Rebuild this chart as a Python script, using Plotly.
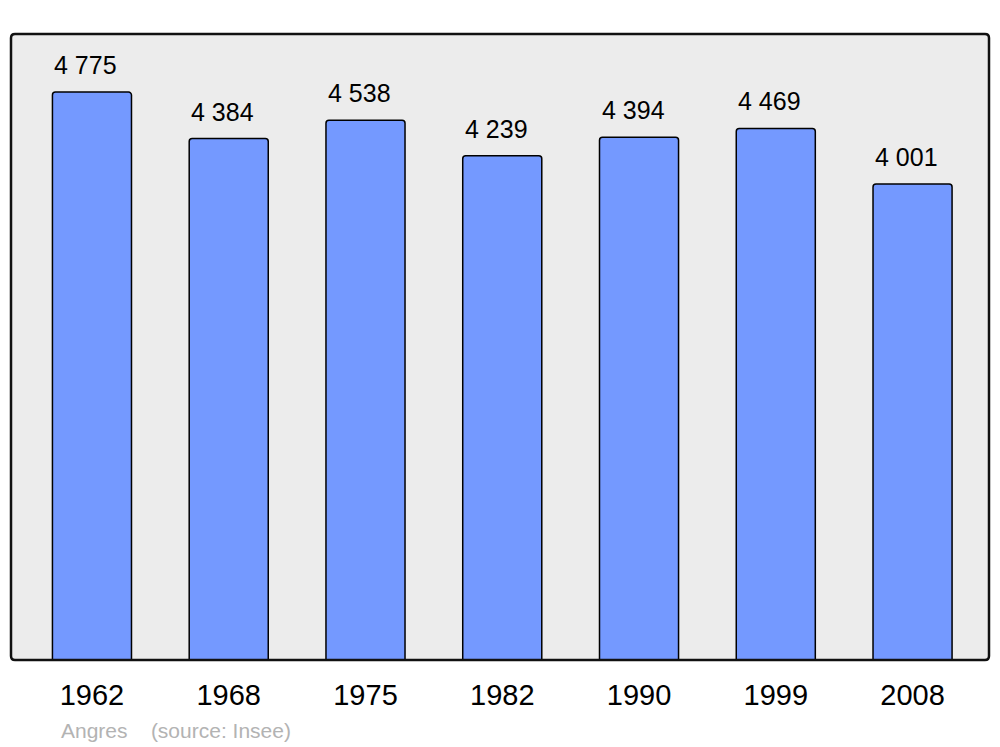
import plotly.graph_objects as go

years = ["1962", "1968", "1975", "1982", "1990", "1999", "2008"]
population = [4775, 4384, 4538, 4239, 4394, 4469, 4001]
value_labels = ["4 775", "4 384", "4 538", "4 239", "4 394", "4 469", "4 001"]

xpos = list(range(len(years)))

fig = go.Figure()
fig.add_trace(go.Bar(
    x=xpos, y=population, width=0.578,
    marker=dict(color="#7499ff", line=dict(color="black", width=1.5), cornerradius=3),
    hoverinfo="skip",
))

for xi, v, lab in zip(xpos, population, value_labels):
    fig.add_annotation(x=xi, y=v, text=lab, showarrow=False, yanchor="bottom",
                       yshift=11, xshift=-6,
                       font=dict(size=25, color="black", family="Liberation Sans, Arial"))

W, H = 978.0, 626.0
rx, ry = 4 / W, 4 / H
path = (f"M {rx},0 L {1-rx},0 Q 1,0 1,{ry} L 1,{1-ry} Q 1,1 {1-rx},1 "
        f"L {rx},1 Q 0,1 0,{1-ry} L 0,{ry} Q 0,0 {rx},0 Z")
fig.add_shape(type="path", xref="paper", yref="paper", path=path,
              line=dict(color="#111111", width=2.5), layer="above")

fig.add_annotation(xref="paper", yref="paper", x=(59 - 11) / W, y=(660 - 730) / H,
                   xanchor="left", yanchor="middle", showarrow=False,
                   text="Angres&nbsp;&nbsp;&nbsp;&nbsp;(source: Insee)",
                   font=dict(size=21, color="#b3b3b3", family="Liberation Sans, Arial"))

# page body has an 8px margin, so the figure is shrunk/offset accordingly
fig.update_layout(
    width=992, height=739,
    margin=dict(l=3, r=11, t=26, b=87),
    paper_bgcolor="white", plot_bgcolor="#ececec",
    showlegend=False,
    xaxis=dict(tickmode="array", tickvals=xpos, ticktext=years, range=[-0.592, 6.559],
               showgrid=False, zeroline=False, ticks="", ticklabelstandoff=15,
               tickfont=dict(size=29, color="black", family="Liberation Sans, Arial"),
               fixedrange=True),
    yaxis=dict(range=[0, 5263], visible=False, showgrid=False, zeroline=False, fixedrange=True),
)

fig.write_html("out.html")
